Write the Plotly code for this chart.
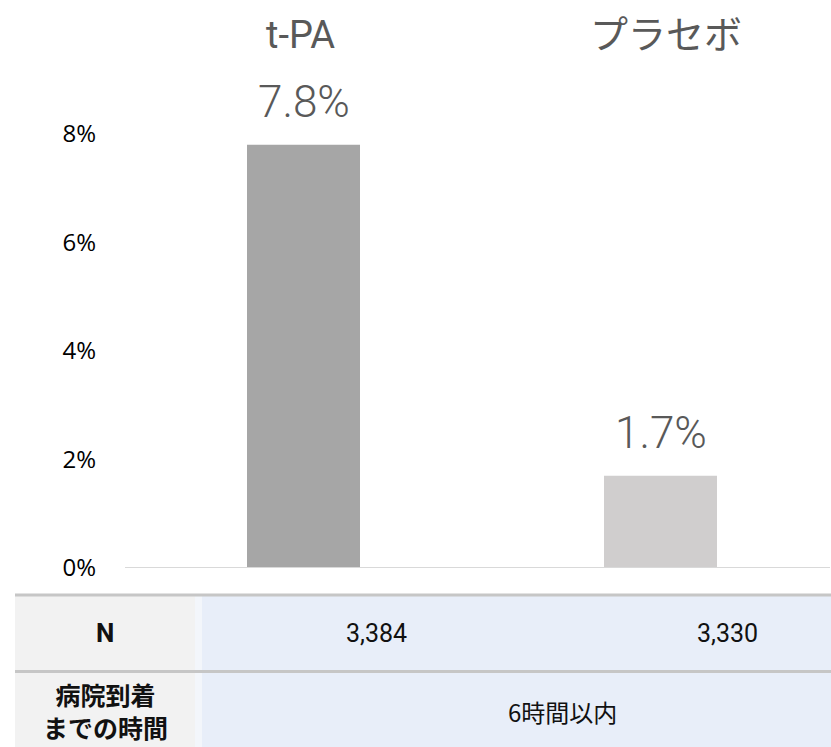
import plotly.graph_objects as go

# ---- data ----
categories = ["t-PA", "プラセボ"]
values = [7.8, 1.7]
value_labels = ["7.8%", "1.7%"]
bar_colors = ["#a6a6a6", "#d0cece"]
ytick_vals = [0, 2, 4, 6, 8]
ytick_text = ["0%", "2%", "4%", "6%", "8%"]
n_values = ["3,384", "3,330"]
row_headers = ["N", "病院到着<br>までの時間"]
time_text = "6時間以内"

W, H = 831, 747
def px_x(p):
    return p / W
def px_y(p):
    return 1 - p / H

x_idx = list(range(len(categories)))

fig = go.Figure()
fig.add_trace(go.Bar(
    x=x_idx, y=values, width=113 / 357,
    marker=dict(color=bar_colors, line=dict(width=0)),
    hoverinfo="skip", showlegend=False,
))

fig.update_layout(
    width=W, height=H, autosize=False,
    margin=dict(l=0, r=0, t=0, b=0, pad=0, autoexpand=False),
    paper_bgcolor="white", plot_bgcolor="white",
    xaxis=dict(domain=[px_x(125), 1], range=[-0.5, 1 + (831 - 660.5) / 357],
               showticklabels=False, showgrid=False, zeroline=False, showline=False,
               ticks="", automargin=False, fixedrange=True),
    yaxis=dict(domain=[px_y(568), 1], range=[0, 568 / 54.25],
               tickvals=ytick_vals, ticktext=ytick_text, showgrid=False,
               zeroline=False, showline=False, ticks="", automargin=False,
               ticklabelstandoff=28,
               tickfont=dict(family="Open Sans, Noto Sans", size=24, color="#000000"),
               fixedrange=True),
    font=dict(family="Roboto, Noto Sans CJK JP"),
)

shapes = []
# baseline
shapes.append(dict(type="line", xref="paper", yref="y", x0=px_x(125), x1=px_x(830),
                   y0=0, y1=0, line=dict(color="#d9d9d9", width=2), layer="above"))
# table backgrounds
shapes.append(dict(type="rect", xref="paper", yref="paper", x0=px_x(15), x1=px_x(195),
                   y0=px_y(747), y1=px_y(595), fillcolor="#f2f2f2", line=dict(width=0), layer="below"))
shapes.append(dict(type="rect", xref="paper", yref="paper", x0=px_x(195), x1=px_x(202),
                   y0=px_y(747), y1=px_y(595), fillcolor="#f3f6fb", line=dict(width=0), layer="below"))
shapes.append(dict(type="rect", xref="paper", yref="paper", x0=px_x(202), x1=1,
                   y0=px_y(747), y1=px_y(595), fillcolor="#e8eef9", line=dict(width=0), layer="below"))
# table lines
for yy in (595, 671.5):
    shapes.append(dict(type="line", xref="paper", yref="paper", x0=px_x(15), x1=1,
                       y0=px_y(yy), y1=px_y(yy), line=dict(color="#c6c6c6", width=3)))
fig.update_layout(shapes=shapes)

ann = []
label_font = dict(family="Roboto, Noto Sans CJK JP", size=38, color="#595959")
cat_x_px = [300, 666]
for i, c in enumerate(categories):
    ann.append(dict(x=px_x(cat_x_px[i]), y=px_y(35), xref="paper", yref="paper", text=c,
                    showarrow=False, xanchor="center", yanchor="middle", font=label_font))
for i, (v, t) in enumerate(zip(values, value_labels)):
    ann.append(dict(x=i, y=v, xref="x", yref="y", text=t, showarrow=False,
                    xanchor="center", yanchor="bottom", yshift=15,
                    font=dict(family="Roboto, Noto Sans CJK JP", size=44, color="#595959", weight=300)))
tbl_font = dict(family="Roboto, Noto Sans CJK JP", size=25, color="#111111")
n_x_px = [376, 727]
for i, n in enumerate(n_values):
    ann.append(dict(x=px_x(n_x_px[i]), y=px_y(633), xref="paper", yref="paper", text=n,
                    showarrow=False, xanchor="center", yanchor="middle", font=tbl_font))
ann.append(dict(x=px_x(105), y=px_y(633), xref="paper", yref="paper", text=row_headers[0],
                showarrow=False, xanchor="center", yanchor="middle",
                font=dict(family="Roboto, Noto Sans CJK JP", size=26, color="#111111", weight="bold")))
ann.append(dict(x=px_x(105), y=px_y(710), xref="paper", yref="paper", text=row_headers[1],
                showarrow=False, xanchor="center", yanchor="middle",
                font=dict(family="Noto Sans CJK JP", size=25, color="#111111", weight="bold")))
ann.append(dict(x=px_x(562), y=px_y(711), xref="paper", yref="paper", text=time_text,
                showarrow=False, xanchor="center", yanchor="middle",
                font=dict(family="Noto Sans CJK JP", size=24, color="#111111")))
fig.update_layout(annotations=ann)

fig.write_html(
    "out.html", config={"displayModeBar": False},
    post_script="document.body.style.margin='0';",
)
